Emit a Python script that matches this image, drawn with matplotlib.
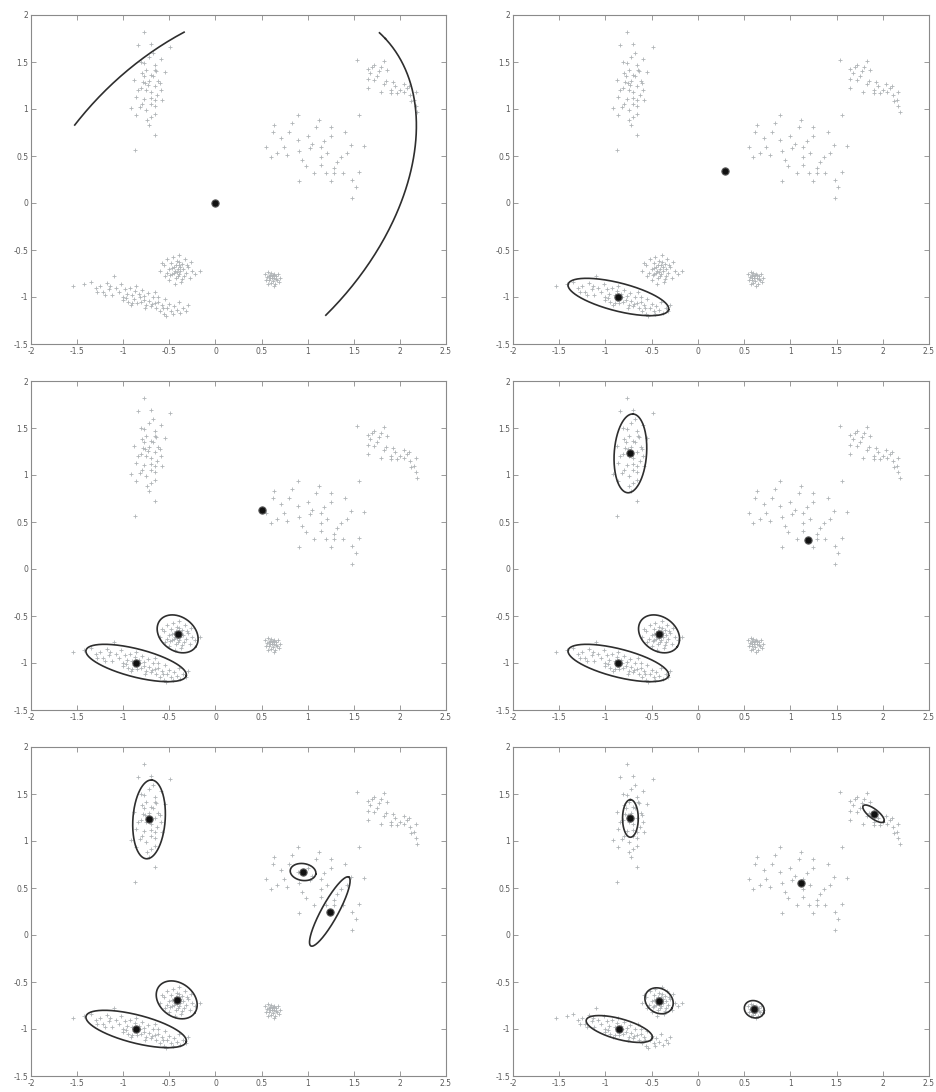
import numpy as np
import matplotlib
matplotlib.use("Agg")
import matplotlib.pyplot as plt

plt.rcParams["axes.unicode_minus"] = False
plt.rcParams["font.family"] = ["DejaVu Sans"]

# ---- observations, grouped by the cluster they fall in -------------------
cluster_a = [(-0.77, 1.82), (-0.84, 1.68), (-0.70, 1.69), (-0.49, 1.66), (-0.81, 1.50),
             (-0.77, 1.49), (-0.66, 1.47), (-0.59, 1.53), (-0.75, 1.42), (-0.64, 1.40),
             (-0.70, 1.36), (-0.55, 1.39), (-0.88, 1.31), (-0.79, 1.29), (-0.73, 1.26),
             (-0.66, 1.24), (-0.59, 1.20), (-0.81, 1.22), (-0.70, 1.18), (-0.86, 1.13),
             (-0.77, 1.11), (-0.66, 1.10), (-0.92, 1.01), (-0.82, 1.02), (-0.75, 0.99),
             (-0.66, 1.03), (-0.86, 0.94), (-0.70, 0.92), (-0.72, 0.83), (-0.66, 0.72),
             (-0.87, 0.56), (-0.72, 1.30), (-0.68, 1.35), (-0.75, 1.20), (-0.63, 1.15),
             (-0.80, 1.05), (-0.70, 1.05), (-0.60, 1.28), (-0.65, 1.42), (-0.80, 1.38),
             (-0.72, 1.55), (-0.68, 1.60), (-0.62, 1.30), (-0.76, 1.28), (-0.70, 1.12),
             (-0.66, 0.95), (-0.74, 0.88), (-0.58, 1.10), (-0.84, 1.20), (-0.78, 1.35)]

cluster_b = [(1.54, 1.52), (1.65, 1.43), (1.72, 1.47), (1.83, 1.51), (1.86, 1.42),
             (1.77, 1.40), (1.65, 1.32), (1.72, 1.31), (1.83, 1.27), (1.93, 1.29),
             (2.04, 1.27), (1.65, 1.22), (1.79, 1.18), (1.90, 1.20), (1.97, 1.17),
             (2.08, 1.22), (2.11, 1.15), (2.17, 1.18), (2.15, 1.10), (2.17, 1.03),
             (2.19, 0.97), (1.56, 0.94), (1.70, 1.45), (1.75, 1.35), (1.85, 1.30),
             (1.95, 1.25), (2.00, 1.20), (1.68, 1.38), (1.80, 1.45), (2.10, 1.25),
             (1.90, 1.17), (2.05, 1.18), (2.12, 1.08)]

cluster_c = [(0.89, 0.94), (0.64, 0.83), (0.83, 0.85), (1.12, 0.88), (1.25, 0.81),
             (1.41, 0.76), (0.62, 0.76), (0.71, 0.69), (0.80, 0.76), (0.89, 0.67),
             (1.00, 0.71), (1.09, 0.81), (1.25, 0.71), (0.55, 0.60), (0.74, 0.60),
             (0.91, 0.55), (1.02, 0.58), (1.14, 0.60), (1.21, 0.53), (1.36, 0.49),
             (1.47, 0.62), (1.61, 0.61), (0.67, 0.53), (0.98, 0.39), (1.14, 0.40),
             (1.32, 0.44), (1.20, 0.32), (1.29, 0.32), (1.38, 0.32), (1.56, 0.33),
             (0.91, 0.23), (1.25, 0.23), (1.48, 0.25), (1.52, 0.17), (1.48, 0.05),
             (0.60, 0.49), (0.94, 0.46), (1.43, 0.53), (1.29, 0.37), (1.14, 0.49),
             (1.07, 0.32), (1.18, 0.66), (0.78, 0.51), (1.05, 0.63)]

cluster_d = [(-1.54, -0.88), (-1.42, -0.86), (-1.35, -0.84), (-1.30, -0.90), (-1.25, -0.88),
             (-1.22, -0.95), (-1.18, -0.85), (-1.15, -0.92), (-1.12, -0.98), (-1.10, -0.78),
             (-1.08, -0.90), (-1.05, -0.95), (-1.02, -0.86), (-1.00, -1.00), (-0.98, -0.92),
             (-0.96, -0.97), (-0.95, -1.05), (-0.93, -0.90), (-0.90, -0.98), (-0.88, -1.02),
             (-0.87, -0.94), (-0.85, -1.06), (-0.83, -0.97), (-0.82, -1.00), (-0.80, -0.93),
             (-0.78, -1.03), (-0.77, -0.99), (-0.75, -1.08), (-0.73, -0.96), (-0.72, -1.04),
             (-0.70, -1.10), (-0.68, -1.00), (-0.66, -1.06), (-0.64, -1.12), (-0.62, -1.05),
             (-0.60, -1.15), (-0.58, -1.08), (-0.56, -1.18), (-0.55, -1.02), (-0.52, -1.12),
             (-0.50, -1.07), (-0.48, -1.15), (-0.45, -1.10), (-0.42, -1.14), (-0.40, -1.05),
             (-0.38, -1.17), (-0.35, -1.12), (-0.32, -1.15), (-0.30, -1.08), (-1.28, -0.95),
             (-1.20, -0.98), (-0.92, -1.08), (-0.86, -0.88), (-0.65, -0.95), (-0.54, -1.20),
             (-0.46, -1.18), (-1.00, -1.03), (-0.90, -1.06), (-0.76, -1.12), (-0.62, -1.00),
             (-1.14, -0.88), (-0.97, -1.01), (-0.81, -1.05), (-0.69, -1.07), (-0.57, -1.12)]

cluster_e = [(-0.60, -0.72), (-0.56, -0.66), (-0.55, -0.78), (-0.52, -0.60), (-0.50, -0.70),
             (-0.50, -0.82), (-0.48, -0.64), (-0.47, -0.75), (-0.46, -0.57), (-0.45, -0.68),
             (-0.44, -0.72), (-0.43, -0.80), (-0.42, -0.62), (-0.41, -0.70), (-0.40, -0.66),
             (-0.40, -0.76), (-0.39, -0.55), (-0.38, -0.72), (-0.37, -0.84), (-0.36, -0.65),
             (-0.35, -0.70), (-0.34, -0.78), (-0.33, -0.60), (-0.32, -0.74), (-0.30, -0.68),
             (-0.28, -0.80), (-0.27, -0.63), (-0.25, -0.72), (-0.22, -0.76), (-0.17, -0.72),
             (-0.44, -0.86), (-0.53, -0.74), (-0.47, -0.69), (-0.43, -0.66), (-0.38, -0.68),
             (-0.36, -0.81), (-0.41, -0.78), (-0.49, -0.77), (-0.31, -0.66), (-0.58, -0.64),
             (-0.45, -0.74), (-0.39, -0.63), (-0.42, -0.73)]

cluster_f = [(0.54, -0.75), (0.56, -0.79), (0.57, -0.73), (0.58, -0.82), (0.59, -0.77),
             (0.60, -0.85), (0.60, -0.74), (0.61, -0.80), (0.62, -0.77), (0.62, -0.83),
             (0.63, -0.75), (0.64, -0.80), (0.65, -0.86), (0.66, -0.78), (0.67, -0.82),
             (0.68, -0.76), (0.69, -0.84), (0.57, -0.86), (0.55, -0.82), (0.63, -0.88),
             (0.59, -0.80), (0.61, -0.78), (0.64, -0.77), (0.66, -0.81), (0.58, -0.78),
             (0.70, -0.80)]

# ---- mixture components after each stage ---------------------------------
# mean (x, y) and contour shape (semi-axis 1, semi-axis 2, orientation in deg);
# None means no contour is drawn for that component.
stage1_means = [(0.0, 0.0)]
stage1_shapes = [(2.54, 1.69, 43.5)]

stage2_means = [(-0.86, -1.00), (0.29, 0.34)]
stage2_shapes = [(0.56, 0.15, -14.0), None]

stage3_means = [(-0.86, -1.00), (-0.41, -0.69), (0.51, 0.63)]
stage3_shapes = [(0.56, 0.15, -14.0), (0.24, 0.18, -35.0), None]

stage4_means = [(-0.86, -1.00), (-0.42, -0.69), (-0.73, 1.23), (1.19, 0.31)]
stage4_shapes = [(0.56, 0.15, -14.0), (0.24, 0.18, -35.0), (0.42, 0.175, 86.0), None]

stage5_means = [(-0.86, -1.00), (-0.42, -0.69), (-0.72, 1.23), (0.95, 0.67), (1.24, 0.25)]
stage5_shapes = [(0.56, 0.15, -14.0), (0.24, 0.18, -35.0), (0.42, 0.175, 86.0),
                 (0.14, 0.09, -8.0), (0.42, 0.09, 60.7)]

stage6_means = [(-0.85, -1.00), (-0.42, -0.70), (-0.73, 1.24), (0.61, -0.79),
                (1.90, 1.29), (1.12, 0.55)]
stage6_shapes = [(0.37, 0.11, -15.0), (0.16, 0.13, -30.0), (0.20, 0.085, 90.0),
                 (0.11, 0.09, -20.0), (0.14, 0.05, -37.0), None]

stages = [
    (stage1_means, stage1_shapes),
    (stage2_means, stage2_shapes),
    (stage3_means, stage3_shapes),
    (stage4_means, stage4_shapes),
    (stage5_means, stage5_shapes),
    (stage6_means, stage6_shapes),
]

x_ticks = [-2, -1.5, -1, -0.5, 0, 0.5, 1, 1.5, 2, 2.5]
y_ticks = [-1.5, -1, -0.5, 0, 0.5, 1, 1.5, 2]

points = np.array(cluster_a + cluster_b + cluster_c + cluster_d + cluster_e + cluster_f)
# contours are evaluated only over the extent of the data
x_lo, x_hi = points[:, 0].min(), points[:, 0].max()
y_lo, y_hi = points[:, 1].min(), points[:, 1].max()


def contour_curve(mean, shape, n=600):
    a, b, ang = shape
    t = np.linspace(0.0, 2.0 * np.pi, n)
    th = np.deg2rad(ang)
    ex, ey = a * np.cos(t), b * np.sin(t)
    x = mean[0] + ex * np.cos(th) - ey * np.sin(th)
    y = mean[1] + ex * np.sin(th) + ey * np.cos(th)
    outside = (x < x_lo) | (x > x_hi) | (y < y_lo) | (y > y_hi)
    x[outside] = np.nan
    y[outside] = np.nan
    return x, y


def fmt(v):
    return ("%g" % v)


W, H = 937, 1092
fig = plt.figure(figsize=(W / 100, H / 100), dpi=100)
fig.patch.set_facecolor("white")

col_left = [31 / W, 513 / W]
col_width = [415 / W, 416 / W]
row_top = [15, 381, 747]
row_height = 329

spine_color = "#8a8a8a"
label_color = "#5a5a5a"

for k, (means, shapes) in enumerate(stages):
    r, c = divmod(k, 2)
    bottom = 1 - (row_top[r] + row_height) / H
    ax = fig.add_axes([col_left[c], bottom, col_width[c], row_height / H])

    ax.plot(points[:, 0], points[:, 1], linestyle="none", marker="+",
            markersize=3.4, markeredgewidth=0.6, color="#b0b4b7", zorder=1)

    for m, s in zip(means, shapes):
        if s is None:
            continue
        cx, cy = contour_curve(m, s)
        ax.plot(cx, cy, color="#2e2e2e", linewidth=1.2, zorder=2)

    mx = [m[0] for m in means]
    my = [m[1] for m in means]
    ax.plot(mx, my, linestyle="none", marker="o", markersize=5.2,
            markerfacecolor="#111111", markeredgecolor="#555555",
            markeredgewidth=0.8, zorder=3)

    ax.set_xlim(-2, 2.5)
    ax.set_ylim(-1.5, 2)
    ax.set_xticks(x_ticks)
    ax.set_yticks(y_ticks)
    ax.set_xticklabels([fmt(v) for v in x_ticks])
    ax.set_yticklabels([fmt(v) for v in y_ticks])
    ax.tick_params(direction="in", length=3.5, width=0.6, colors=spine_color,
                   labelcolor=label_color, labelsize=5.5, pad=2,
                   top=True, right=True)
    for side, sp in ax.spines.items():
        sp.set_color(spine_color)
        sp.set_linewidth(0.8)

fig.savefig("out.png", dpi=100, facecolor="white")
